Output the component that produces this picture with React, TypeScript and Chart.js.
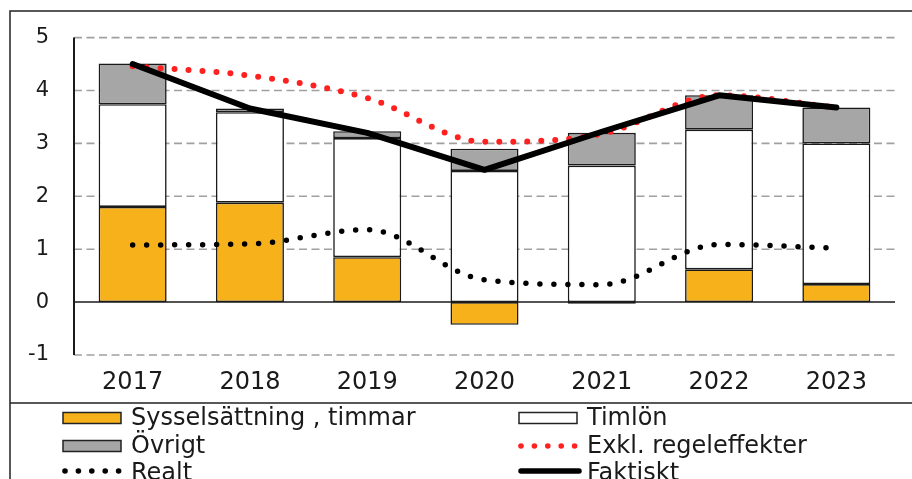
import React, { useEffect, useRef } from 'react';
import { Chart, registerables } from 'chart.js';

Chart.register(...registerables);

const years = ['2017', '2018', '2019', '2020', '2021', '2022', '2023'];
const sysselsattning = [1.8, 1.88, 0.85, -0.43, -0.03, 0.62, 0.34];
const timlon = [1.94, 1.71, 2.25, 2.48, 2.58, 2.64, 2.66];
const ovrigt = [0.77, 0.07, 0.13, 0.42, 0.62, 0.65, 0.68];
const exklRegeleffekter = [4.46, 4.28, 3.86, 3.03, 3.18, 3.91, 3.68];
const realt = [1.08, 1.1, 1.37, 0.42, 0.33, 1.09, 1.02];
const faktiskt = [4.5, 3.66, 3.2, 2.5, 3.22, 3.91, 3.68];
const yTicks = [-1, 0, 1, 2, 3, 4, 5];

const labels = {
  syss: 'Sysselsättning , timmar',
  timlon: 'Timlön',
  ovrigt: 'Övrigt',
  exkl: 'Exkl. regeleffekter',
  realt: 'Realt',
  faktiskt: 'Faktiskt',
};

const ORANGE = '#F7B21B';
const GRAY = '#A6A6A6';
const RED = '#FF2020';
const INK = '#1a1a1a';
const FONT = '"DejaVu Sans", "Liberation Sans", Arial, sans-serif';

const decorPlugin = {
  id: 'decor',
  beforeDatasetsDraw(chart: any) {
    const { ctx, chartArea, scales } = chart;
    const y = scales.y;
    ctx.save();
    ctx.lineWidth = 1.6;
    ctx.strokeStyle = '#a0a0a0';
    ctx.setLineDash([8, 4.5]);
    for (const v of yTicks) {
      if (v === 0) continue;
      const py = y.getPixelForValue(v);
      ctx.beginPath();
      ctx.moveTo(chartArea.left, py);
      ctx.lineTo(chartArea.right, py);
      ctx.stroke();
    }
    ctx.setLineDash([]);
    ctx.strokeStyle = INK;
    ctx.lineWidth = 1.5;
    const p0 = y.getPixelForValue(0);
    ctx.beginPath();
    ctx.moveTo(chartArea.left, p0);
    ctx.lineTo(chartArea.right, p0);
    ctx.stroke();
    ctx.lineWidth = 2;
    ctx.beginPath();
    ctx.moveTo(chartArea.left, y.getPixelForValue(yTicks[0]));
    ctx.lineTo(chartArea.left, y.getPixelForValue(yTicks[yTicks.length - 1]));
    ctx.stroke();
    ctx.restore();
  },
  afterDraw(chart: any) {
    const { ctx } = chart;
    const W = chart.width;
    const H = chart.height;
    ctx.save();
    ctx.strokeStyle = '#222';
    ctx.lineWidth = 1.5;
    ctx.beginPath();
    ctx.moveTo(W, 11);
    ctx.lineTo(10, 11);
    ctx.lineTo(10, H);
    ctx.moveTo(10, 403);
    ctx.lineTo(W, 403);
    ctx.stroke();

    const cols = [63, 519];
    const textX = [131, 587];
    const rowsC = [418, 446, 471];
    const rowsB = [425, 453, 480];
    const items = [
      { kind: 'rect', color: ORANGE, text: labels.syss },
      { kind: 'rect', color: '#ffffff', text: labels.timlon },
      { kind: 'rect', color: GRAY, text: labels.ovrigt },
      { kind: 'dots', color: RED, text: labels.exkl },
      { kind: 'dots', color: '#000', text: labels.realt },
      { kind: 'line', color: '#000', text: labels.faktiskt },
    ];
    ctx.font = `24px ${FONT}`;
    ctx.textBaseline = 'alphabetic';
    ctx.textAlign = 'left';
    items.forEach((it, i) => {
      const c = i % 2;
      const r = Math.floor(i / 2);
      const x0 = cols[c];
      const cy = rowsC[r];
      if (it.kind === 'rect') {
        ctx.fillStyle = it.color;
        ctx.fillRect(x0, cy - 5.5, 58, 11);
        ctx.strokeStyle = '#222';
        ctx.lineWidth = 1.5;
        ctx.strokeRect(x0, cy - 5.5, 58, 11);
      } else if (it.kind === 'dots') {
        ctx.fillStyle = it.color;
        for (let k = 0; k < 5; k++) {
          ctx.beginPath();
          ctx.arc(x0 + 2 + k * 13.4, cy, 2.8, 0, Math.PI * 2);
          ctx.fill();
        }
      } else {
        ctx.strokeStyle = it.color;
        ctx.lineWidth = 5.5;
        ctx.lineCap = 'round';
        ctx.beginPath();
        ctx.moveTo(x0 + 2, cy);
        ctx.lineTo(x0 + 60, cy);
        ctx.stroke();
      }
      ctx.fillStyle = INK;
      ctx.fillText(it.text, textX[c], rowsB[r]);
    });
    ctx.restore();
  },
};

export default function App() {
  const ref = useRef<HTMLCanvasElement | null>(null);

  useEffect(() => {
    if (!ref.current) return;
    const barCommon = {
      type: 'bar' as const,
      borderColor: INK,
      borderWidth: 1.6,
      borderSkipped: false,
      order: 10,
      stack: 'bars',
      barPercentage: 0.58,
      categoryPercentage: 1,
    };
    const lineCommon = {
      type: 'line' as const,
      pointRadius: 0,
      pointHoverRadius: 0,
      fill: false,
      cubicInterpolationMode: 'monotone',
    };
    const chart = new Chart(ref.current, {
      type: 'bar',
      data: {
        labels: years,
        datasets: [
          { ...barCommon, label: labels.syss, data: sysselsattning, backgroundColor: ORANGE },
          { ...barCommon, label: labels.timlon, data: timlon, backgroundColor: '#ffffff' },
          { ...barCommon, label: labels.ovrigt, data: ovrigt, backgroundColor: GRAY },
          {
            ...lineCommon,
            label: labels.exkl,
            data: exklRegeleffekter,
            borderColor: RED,
            borderWidth: 6,
            borderDash: [0, 14],
            borderCapStyle: 'round',
            stack: 'l1',
            order: 3,
          },
          {
            ...lineCommon,
            label: labels.realt,
            data: realt,
            borderColor: '#000',
            borderWidth: 5.5,
            borderDash: [0, 14],
            borderCapStyle: 'round',
            stack: 'l2',
            order: 2,
          },
          {
            type: 'line',
            label: labels.faktiskt,
            data: faktiskt,
            borderColor: '#000',
            borderWidth: 6,
            borderCapStyle: 'round',
            borderJoinStyle: 'round',
            pointRadius: 0,
            pointHoverRadius: 0,
            fill: false,
            tension: 0,
            stack: 'l3',
            order: 1,
          },
        ] as any,
      },
      options: {
        responsive: false,
        maintainAspectRatio: false,
        devicePixelRatio: 1,
        animation: false,
        layout: { padding: { left: 0, top: 34, right: 17, bottom: 0 } },
        plugins: { legend: { display: false }, tooltip: { enabled: false } },
        scales: {
          x: {
            stacked: true,
            grid: { display: false, drawTicks: false },
            border: { display: false },
            ticks: { color: INK, font: { family: FONT, size: 24 }, padding: 13 },
            afterFit: (s: any) => {
              s.height = 124;
            },
          },
          y: {
            stacked: true,
            min: -1,
            max: 5,
            grid: { display: false, drawTicks: false },
            border: { display: false },
            ticks: { color: INK, font: { family: FONT, size: 21 }, padding: 25 },
            afterBuildTicks: (s: any) => {
              s.ticks = yTicks.map((v) => ({ value: v }));
            },
            afterFit: (s: any) => {
              s.width = 74;
            },
          },
        },
      },
      plugins: [decorPlugin],
    } as any);
    return () => chart.destroy();
  }, []);

  return (
    <div style={{ position: 'fixed', left: 0, top: 0, width: 912, height: 479, background: '#fff' }}>
      <canvas ref={ref} width={912} height={479} style={{ display: 'block' }} />
    </div>
  );
}
